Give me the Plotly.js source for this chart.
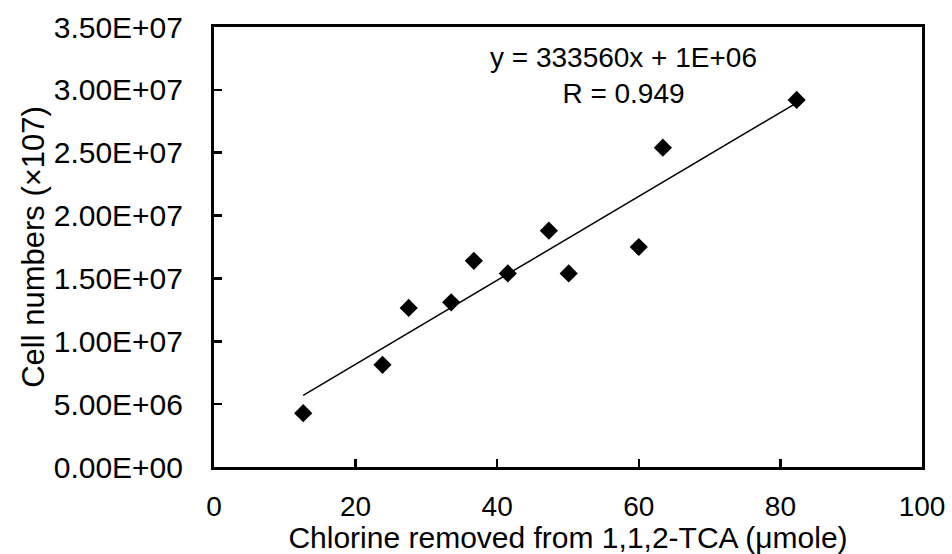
<!DOCTYPE html>
<html>
<head>
<meta charset="utf-8">
<script src="https://cdn.plot.ly/plotly-3.0.1.min.js"></script>
<style>html,body{margin:0;padding:0;background:#fff;}#chart{width:952px;height:554px;}</style>
</head>
<body>
<div id="chart"></div>
<script>
const chlorineRemoved = [12.6, 23.8, 27.5, 33.5, 36.7, 41.5, 47.3, 50.1, 60.0, 63.4, 82.3];
const cellNumbers = [4.28e6, 8.13e6, 12.65e6, 13.1e6, 16.4e6, 15.4e6, 18.8e6, 15.4e6, 17.5e6, 25.4e6, 29.2e6];
const yTickVals = [0, 5e6, 1e7, 1.5e7, 2e7, 2.5e7, 3e7, 3.5e7];
const yTickText = ["0.00E+00", "5.00E+06", "1.00E+07", "1.50E+07", "2.00E+07", "2.50E+07", "3.00E+07", "3.50E+07"];
const xTickVals = [0, 20, 40, 60, 80, 100];
const equationLines = ["y = 333560x + 1E+06", "R = 0.949"];

// least-squares trend line from the data
const n = chlorineRemoved.length;
const mx = chlorineRemoved.reduce((a, b) => a + b, 0) / n;
const my = cellNumbers.reduce((a, b) => a + b, 0) / n;
let sxy = 0, sxx = 0;
for (let i = 0; i < n; i++) {
  sxy += (chlorineRemoved[i] - mx) * (cellNumbers[i] - my);
  sxx += (chlorineRemoved[i] - mx) ** 2;
}
const slope = sxy / sxx;
const intercept = my - slope * mx;
const xMin = Math.min(...chlorineRemoved), xMax = Math.max(...chlorineRemoved);
const trendX = [xMin, xMax];
const trendY = trendX.map(x => slope * x + intercept);

const fam = "Liberation Sans, Arial, sans-serif";
const f = s => ({family: fam, size: s, color: "#000"});

const data = [
  {x: trendX, y: trendY, mode: "lines", type: "scatter",
   line: {color: "#000", width: 1.5}, hoverinfo: "skip", showlegend: false},
  {x: chlorineRemoved, y: cellNumbers, mode: "markers", type: "scatter",
   marker: {symbol: "diamond", size: 14, color: "#000"}, showlegend: false}
];

const layout = {
  width: 952, height: 554,
  margin: {l: 214, r: 30, t: 27, b: 87, pad: 0},
  paper_bgcolor: "#fff", plot_bgcolor: "#fff",
  font: f(20),
  showlegend: false,
  xaxis: {
    range: [0, 100], tickvals: xTickVals, ticks: "inside", ticklen: 8, tickwidth: 2.5, tickcolor: "#000",
    showline: true, linewidth: 3, linecolor: "#000", mirror: true, showgrid: false, zeroline: false,
    tickfont: f(28), ticklabelstandoff: 12,
    title: {text: "Chlorine removed from 1,1,2-TCA (μmole)", font: f(30), standoff: 2}
  },
  yaxis: {
    range: [0, 3.5e7], tickvals: yTickVals, ticktext: yTickText, ticks: "inside", ticklen: 8, tickwidth: 2.5, tickcolor: "#000",
    showline: true, linewidth: 3, linecolor: "#000", mirror: true, showgrid: false, zeroline: false,
    tickfont: f(30), ticklabelstandoff: 22,
    title: {text: "Cell numbers (×107)", font: f(31), standoff: 0}
  },
  annotations: [
    {xref: "x", yref: "y", x: 57.9, y: 3.115e7, text: equationLines.join("<br>"), showarrow: false,
     font: f(28), align: "center", xanchor: "center", yanchor: "middle"}
  ]
};

Plotly.newPlot("chart", data, layout, {displayModeBar: false, staticPlot: true});
</script>
</body>
</html>
